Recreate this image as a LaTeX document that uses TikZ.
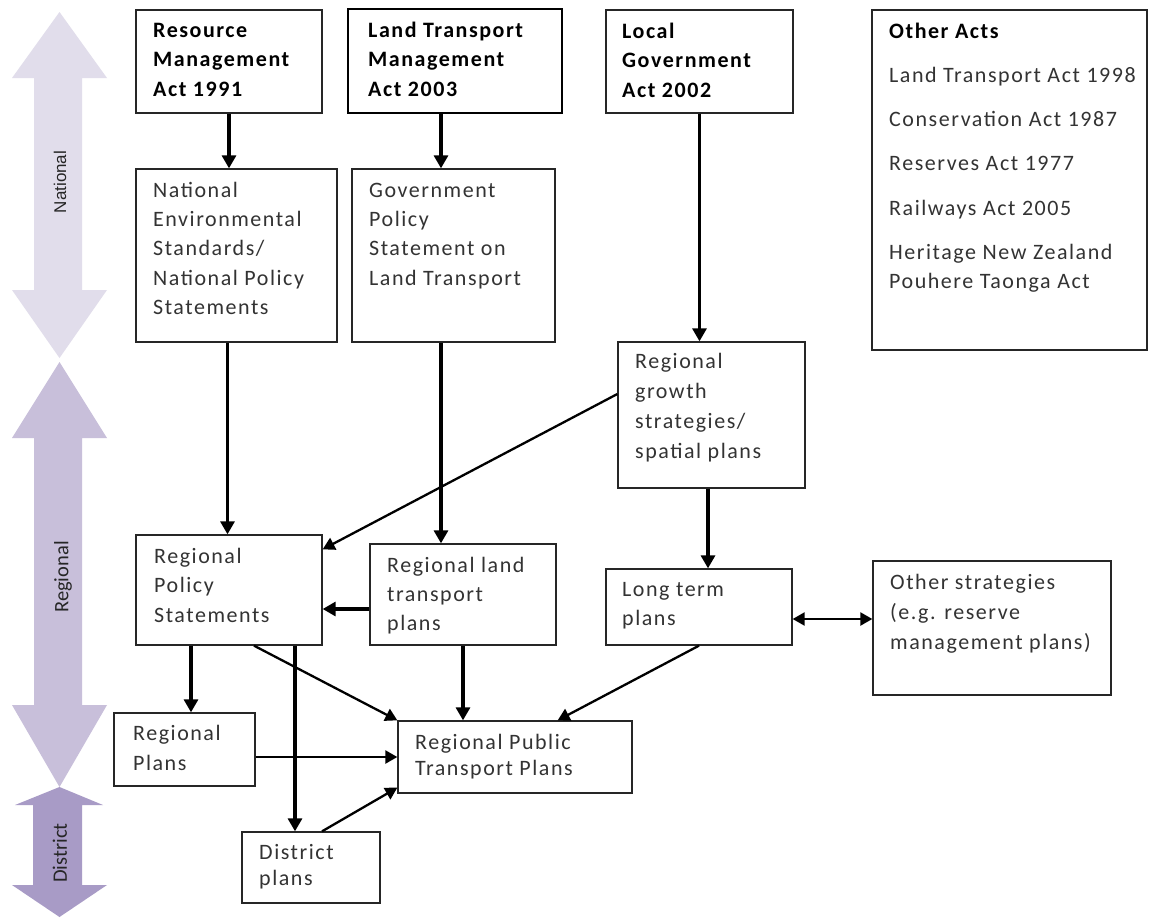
\documentclass[tikz,border=0pt]{standalone}
\usepackage{fontspec}
\setmainfont{Carlito}[LetterSpace=7]
\newfontfamily\labfont{Carlito}
\newfontfamily\arialfont{Liberation Sans}
\usetikzlibrary{arrows.meta}
\definecolor{txtc}{HTML}{333333}
\definecolor{natc}{HTML}{E1DDEB}
\definecolor{regc}{HTML}{C8BFDA}
\definecolor{disc}{HTML}{A89BC6}
\newcommand{\tstrut}{\rule{0pt}{18pt}}
\begin{document}
\begin{tikzpicture}[x=1pt,y=-1pt,
  box/.style={draw=black!85, line width=1.3pt, inner sep=0pt},
  tx/.style={anchor=north west, inner sep=0pt, align=left, text=txtc, font=\fontsize{22}{#1}\selectfont},
  tx/.default=29.5,
  bt/.style={anchor=north west, inner sep=0pt, align=left, text=black, font=\fontsize{22}{29.5}\selectfont\bfseries},
  lab/.style={rotate=90, inner sep=0pt, text=black!85, font=\labfont\fontsize{20.5}{20.5}\selectfont},
  arr/.style={-{Triangle[width=14pt,length=13pt]}, line width=3.1pt},
  arrt/.style={-{Triangle[width=13pt,length=12pt]}, line width=2.3pt},
  darr/.style={{Triangle[width=13pt,length=12pt]}-{Triangle[width=13pt,length=12pt]}, line width=2.3pt}
]
\useasboundingbox (0,0) rectangle (1149,919);
\fill[white] (0,0) rectangle (1149,919);

% level arrows
\fill[natc] (59.5,12) -- (107,78) -- (82,78) -- (82,290) -- (107,290) -- (59.5,358) -- (12,290) -- (34,290) -- (34,78) -- (12,78) -- cycle;
\fill[regc] (59.5,362) -- (107,438) -- (82,438) -- (82,705) -- (107,705) -- (59.5,787) -- (12,705) -- (34,705) -- (34,438) -- (12,438) -- cycle;
\fill[disc] (59.5,787) -- (103,805) -- (82,805) -- (82,885) -- (107,885) -- (59.5,917) -- (12,885) -- (33,885) -- (33,805) -- (15,805) -- cycle;
\node[lab, font=\arialfont\fontsize{17}{17}\selectfont] (natl) at (60,182) {National};
\node[lab] (regl) at (63,577) {Regional};
\node[lab] (disl) at (60,853) {District};

% boxes
\node[box, minimum width=186pt, minimum height=103pt] (rma) at (229,61.5) {};
\node[box, draw=black, line width=2.3pt, minimum width=214pt, minimum height=104pt] (ltma) at (455,61) {};
\node[box, minimum width=187pt, minimum height=103pt] (lga) at (699.5,61.5) {};
\node[box, minimum width=275pt, minimum height=340pt] (oth) at (1009.5,180) {};
\node[box, minimum width=201pt, minimum height=173pt] (nes) at (236.5,255.5) {};
\node[box, minimum width=203pt, minimum height=173pt] (gps) at (453.5,255.5) {};
\node[box, minimum width=187pt, minimum height=146pt] (rg) at (711.5,415) {};
\node[box, minimum width=186pt, minimum height=110pt] (rps) at (229,590) {};
\node[box, minimum width=186pt, minimum height=101pt] (rltp) at (463,594.5) {};
\node[box, minimum width=186pt, minimum height=76pt] (ltp) at (699,607) {};
\node[box, minimum width=238pt, minimum height=134pt] (os) at (992,628) {};
\node[box, minimum width=141pt, minimum height=73pt] (regp) at (184.5,749.5) {};
\node[box, minimum width=234pt, minimum height=72pt] (rptp) at (515,757) {};
\node[box, minimum width=138pt, minimum height=71pt] (dist) at (311,867.5) {};

% texts
\node[bt] (rma-t) at (153,19) {\tstrut Resource\\Management\\Act 1991};
\node[bt] (ltma-t) at (368,19) {\tstrut Land Transport\\Management\\Act 2003};
\node[bt] (lga-t) at (622,20) {\tstrut Local\\Government\\Act 2002};
\node[tx] (oth-t) at (889,20) {\tstrut{\color{black}\bfseries Other Acts}\\[14.5pt]
  Land Transport Act 1998\\[14.5pt]
  Conservation Act 1987\\[15pt]
  Reserves Act 1977\\[15pt]
  Railways Act 2005\\[14.5pt]
  Heritage New Zealand\\
  Pouhere Taonga Act};
\node[tx=29.3] (nes-t) at (153,179) {\tstrut National\\Environmental\\Standards/\\National Policy\\Statements};
\node[tx=29.3] (gps-t) at (369,179) {\tstrut Government\\Policy\\Statement on\\Land Transport};
\node[tx=30] (rg-t) at (635,350) {\tstrut Regional\\growth\\strategies/\\spatial plans};
\node[tx] (rps-t) at (154,545) {\tstrut Regional\\Policy\\Statements};
\node[tx=29] (rltp-t) at (387,554) {\tstrut Regional land\\transport\\plans};
\node[tx=29] (ltp-t) at (622,578) {\tstrut Long term\\plans};
\node[tx=30] (os-t) at (890,571) {\tstrut Other strategies\\(e.g. reserve\\management plans)};
\node[tx=30] (regp-t) at (133,722) {\tstrut Regional\\Plans};
\node[tx=26] (rptp-t) at (415,731) {\tstrut Regional Public\\Transport Plans};
\node[tx=26] (dist-t) at (259,841) {\tstrut District\\plans};

% connectors
\draw[arr] (rma.south) -- (rma.south |- nes.north);
\draw[arr] ([xshift=-14pt]ltma.south) -- ([xshift=-14pt]ltma.south |- gps.north);
\draw[arr] (lga.south) -- (lga.south |- rg.north);
\draw[arr] ([xshift=-9pt]nes.south) -- ([xshift=-9pt]nes.south |- rps.north);
\draw[arr] ([xshift=-12.5pt]gps.south) -- ([xshift=-12.5pt]gps.south |- rltp.north);
\draw[arrt] ([yshift=21pt]rg.west) -- ([yshift=-15pt]rps.north east);
\draw[arr] ([xshift=-3.5pt]rg.south) -- ([xshift=-3.5pt]rg.south |- ltp.north);
\draw[arr] ([yshift=-14.5pt]rltp.west) -- ([yshift=-14.5pt]rltp.west -| rps.east);
\draw[darr] ([yshift=-12pt]ltp.east) -- ([yshift=-12pt]ltp.east -| os.west);
\draw[arr] ([xshift=-38pt]rps.south) -- ([xshift=-38pt]rps.south |- regp.north);
\draw[arrt] ([xshift=25pt]rps.south) -- (rptp.north west);
\draw[arr] (rltp.south) -- (rltp.south |- rptp.north);
\draw[arrt] (ltp.south) -- ([xshift=-75pt]rptp.north east);
\draw[arrt] ([yshift=-7.5pt]regp.east) -- ([yshift=-7.5pt]regp.east -| rptp.west);
\draw[arr] ([xshift=66pt]rps.south) -- ([xshift=66pt]rps.south |- dist.north);
\draw[arrt] ([xshift=11pt]dist.north) -- ([yshift=6pt]rptp.south west);
\end{tikzpicture}
\end{document}
